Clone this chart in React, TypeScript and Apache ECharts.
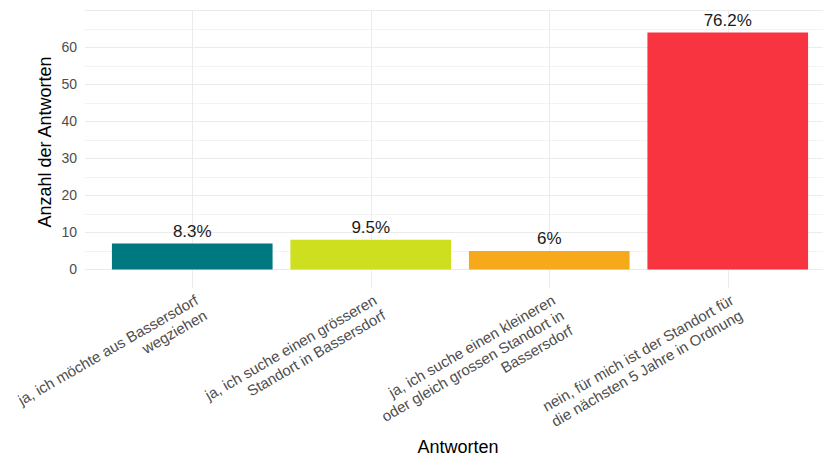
import React, { useEffect, useRef } from 'react';
import * as echarts from 'echarts';

const categories = [
  'ja, ich möchte aus Bassersdorf\nwegziehen',
  'ja, ich suche einen grösseren\nStandort in Bassersdorf',
  'ja, ich suche einen kleineren\noder gleich grossen Standort in\nBassersdorf',
  'nein, für mich ist der Standort für\ndie nächsten 5 Jahre in Ordnung',
];
const counts = [7, 8, 5, 64];
const barColors = ['#007880', '#CEDF1F', '#F6A91B', '#F7343F'];
const yTickLabels = [0, 10, 20, 30, 40, 50, 60];
const yTitle = 'Anzahl der Antworten';
const xTitle = 'Antworten';

const FONT = '"Liberation Sans", Arial, Helvetica, sans-serif';

export default function App() {
  const ref = useRef<HTMLDivElement>(null);
  useEffect(() => {
    if (!ref.current) return;
    const chart = echarts.init(ref.current, null, { renderer: 'svg' });
    const total = counts.reduce((a, b) => a + b, 0);
    const pct = (v: number) => {
      const p = Math.round((v / total) * 1000) / 10;
      return (Number.isInteger(p) ? String(p) : p.toFixed(1)) + '%';
    };
    // split line colours: -5 (hidden), 0, 5, 10, ... 70
    const lineColors: string[] = [];
    for (let v = -5; v <= 70; v += 5) {
      if (v < 0) lineColors.push('rgba(0,0,0,0)');
      else if (v % 10 === 0) lineColors.push('#ebebeb');
      else lineColors.push('#f3f3f3');
    }
    chart.setOption({
      animation: false,
      backgroundColor: '#ffffff',
      textStyle: { fontFamily: FONT },
      grid: [
        { left: 85, right: 0, top: 10.3, bottom: 169 },
        { left: 103, right: 6, top: 10.3, bottom: 169 },
      ],
      xAxis: [
        { gridIndex: 0, type: 'value', show: false, min: 0, max: 1 },
        {
          gridIndex: 1,
          type: 'category',
          data: categories,
          axisLine: { show: false },
          axisTick: { show: false },
          splitLine: {
            show: true,
            alignWithLabel: true,
            lineStyle: { color: '#ebebeb', width: 1 },
          },
          axisLabel: {
            interval: 0,
            rotate: 30,
            fontSize: 15,
            lineHeight: 17.5,
            color: '#4d4d4d',
            fontFamily: FONT,
            verticalAlign: 'top',
            margin: 3,
          },
        },
      ],
      yAxis: [
        {
          gridIndex: 0,
          type: 'value',
          min: -5,
          max: 70,
          interval: 5,
          axisLine: { show: false },
          axisTick: { show: false },
          axisLabel: {
            color: '#4d4d4d',
            fontSize: 14,
            margin: 8,
            fontFamily: FONT,
            formatter: (v: number) => (yTickLabels.includes(v) ? String(v) : ''),
          },
          splitLine: { show: true, lineStyle: { color: lineColors, width: 1 } },
        },
        { gridIndex: 1, type: 'value', min: -5, max: 70, interval: 5, show: false },
      ],
      series: [
        {
          type: 'bar',
          xAxisIndex: 1,
          yAxisIndex: 1,
          barWidth: '90%',
          data: counts.map((v, i) => ({ value: v, itemStyle: { color: barColors[i] } })),
          label: {
            show: true,
            position: 'top',
            distance: 3.5,
            fontSize: 17,
            color: '#1a1a1a',
            fontFamily: FONT,
            formatter: (p: any) => pct(p.value),
          },
        },
      ],
      graphic: [
        {
          type: 'text',
          x: 45,
          y: 142,
          rotation: Math.PI / 2,
          style: {
            text: yTitle,
            fontSize: 18,
            fill: '#000',
            align: 'center',
            verticalAlign: 'middle',
            fontFamily: FONT,
          },
        },
        {
          type: 'text',
          x: 458,
          y: 447,
          style: {
            text: xTitle,
            fontSize: 18,
            fill: '#000',
            align: 'center',
            verticalAlign: 'middle',
            fontFamily: FONT,
          },
        },
      ],
    });
    return () => chart.dispose();
  }, []);
  return (
    <div
      ref={ref}
      style={{ position: 'fixed', left: 0, top: 0, width: 823, height: 457 }}
    />
  );
}
